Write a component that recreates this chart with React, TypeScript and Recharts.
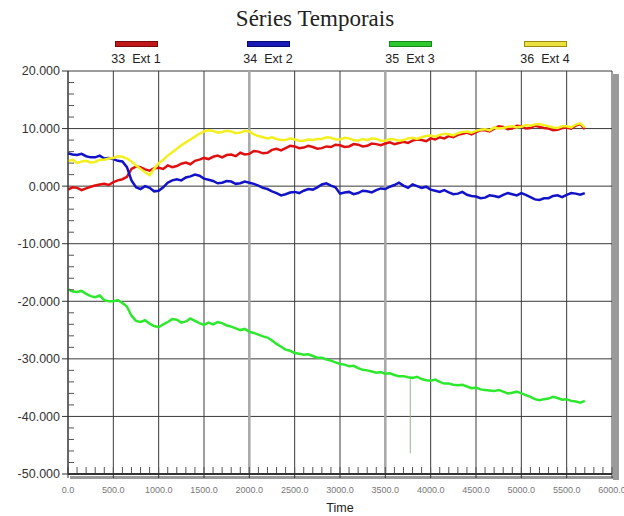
import React from 'react';
import { LineChart, Line, XAxis, YAxis, CartesianGrid, ReferenceLine } from 'recharts';

const times = [
  0, 50, 100, 150, 200, 250, 300, 350, 400, 450,
  500, 550, 600, 650, 700, 750, 800, 850, 900, 950,
  1000, 1050, 1100, 1150, 1200, 1250, 1300, 1350, 1400, 1450,
  1500, 1550, 1600, 1650, 1700, 1750, 1800, 1850, 1900, 1950,
  2000, 2050, 2100, 2150, 2200, 2250, 2300, 2350, 2400, 2450,
  2500, 2550, 2600, 2650, 2700, 2750, 2800, 2850, 2900, 2950,
  3000, 3050, 3100, 3150, 3200, 3250, 3300, 3350, 3400, 3450,
  3500, 3550, 3600, 3650, 3700, 3750, 3800, 3850, 3900, 3950,
  4000, 4050, 4100, 4150, 4200, 4250, 4300, 4350, 4400, 4450,
  4500, 4550, 4600, 4650, 4700, 4750, 4800, 4850, 4900, 4950,
  5000, 5050, 5100, 5150, 5200, 5250, 5300, 5350, 5400, 5450,
  5500, 5550, 5600, 5650, 5700,
];

const ext1 = [
  -0.6, -0.2, -0.3, -0.7, -0.4, -0.1, 0.1, 0.3, 0.4, 0.2,
  0.7, 1.0, 1.2, 1.6, 3.0, 3.4, 3.3, 2.9, 2.7, 3.1,
  3.2, 3.0, 3.6, 3.3, 3.5, 3.9, 4.1, 3.8, 4.4, 4.6,
  4.9, 4.7, 5.1, 5.3, 5.0, 5.4, 5.5, 5.2, 5.8, 5.5,
  5.6, 6.1, 6.0, 5.7, 5.8, 6.3, 6.5, 6.2, 6.6, 7.0,
  6.9, 6.6, 6.7, 7.0, 6.8, 6.5, 6.6, 6.9, 6.8, 7.2,
  7.1, 6.8, 6.9, 7.3, 7.2, 6.9, 7.0, 7.4, 7.3, 7.1,
  7.4, 7.6, 7.3, 7.5, 7.7, 7.5, 7.9, 8.1, 8.0, 7.8,
  8.3, 8.1, 8.5, 8.3, 8.7, 8.5, 8.9, 9.1, 9.3, 9.0,
  9.4, 9.7, 9.7, 9.5, 10.0, 10.4, 10.3, 9.9, 10.0, 10.5,
  10.4, 10.0, 10.1, 10.5, 10.3, 10.1, 10.0, 9.7, 9.8, 10.1,
  10.2, 10.0, 10.5, 10.8, 9.9,
];

const ext2 = [
  5.7, 5.5, 5.4, 5.6, 5.2, 5.0, 5.0, 5.3, 4.8, 4.9,
  4.7, 4.4, 4.3, 3.3, 1.0, -0.2, -0.5, 0.0, -0.3, -0.9,
  -0.8, -0.2, 0.6, 1.0, 1.2, 1.0, 1.5, 1.7, 2.0, 1.8,
  1.3, 1.1, 0.9, 0.5, 0.6, 0.9, 0.8, 0.4, 0.5, 0.8,
  0.6, 0.4, 0.1, -0.3, -0.5, -0.9, -1.2, -1.6, -1.4, -1.1,
  -1.0, -1.2, -0.8, -0.5, -0.6, -0.2, 0.3, 0.5, 0.1, -0.2,
  -1.3, -1.1, -1.0, -1.4, -1.2, -0.8, -0.9, -1.1, -0.7, -0.4,
  -0.5, -0.1, 0.2, 0.6, 0.1, -0.3, 0.3, 0.0, -0.3, -0.1,
  -0.6, -0.8, -1.0, -0.7, -1.1, -1.4, -1.3, -1.0, -1.5, -1.7,
  -1.8, -2.1, -2.0, -1.6, -1.7, -1.9, -1.5, -1.2, -1.4, -1.6,
  -1.2, -1.5, -1.9, -2.3, -2.4, -2.1, -2.1, -1.7, -1.6, -1.9,
  -1.5, -1.2, -1.3, -1.5, -1.2,
];

const ext3 = [
  -17.9, -18.3, -18.4, -18.2, -18.7, -19.1, -19.3, -19.0, -19.8, -20.0,
  -20.0, -19.8, -20.3, -20.9, -22.5, -23.4, -23.6, -23.3, -23.9, -24.3,
  -24.5, -24.0, -23.6, -23.1, -23.2, -23.7, -23.5, -23.0, -23.4, -23.8,
  -24.1, -23.7, -24.0, -23.6, -23.8, -24.2, -24.4, -24.7, -25.0, -24.8,
  -25.3, -25.5, -25.8, -26.1, -26.3, -26.8, -27.4, -27.9, -28.4, -28.6,
  -29.0, -29.1, -29.3, -29.2, -29.5, -29.8, -29.8, -30.1, -30.3, -30.6,
  -30.9, -31.0, -31.3, -31.2, -31.6, -31.9, -32.0, -32.2, -32.4, -32.3,
  -32.6, -32.5, -32.8, -33.0, -33.0, -33.2, -33.3, -33.1, -33.5, -33.7,
  -33.8, -33.6, -34.0, -34.3, -34.3, -34.5, -34.6, -34.5, -34.8, -35.1,
  -35.0, -35.3, -35.4, -35.5, -35.6, -35.4, -35.7, -36.0, -35.9, -35.7,
  -36.0, -36.3, -36.6, -37.0, -37.2, -37.0, -36.9, -36.6, -36.8, -37.1,
  -37.0, -37.3, -37.4, -37.6, -37.3,
];

const ext4 = [
  4.3, 4.6, 4.0, 4.3, 4.4, 4.1, 4.2, 4.6, 4.6, 4.8,
  4.9, 5.2, 5.1, 4.8, 4.3, 3.6, 3.0, 2.4, 1.9, 3.0,
  4.0, 4.6, 5.3, 5.9, 6.5, 7.1, 7.6, 8.1, 8.6, 9.1,
  9.5, 9.7, 9.6, 9.3, 9.4, 9.6, 9.5, 9.2, 9.3, 9.6,
  9.5, 9.0, 8.7, 8.5, 8.3, 8.5, 8.2, 8.0, 8.0, 8.3,
  8.1, 7.9, 7.9, 8.1, 8.0, 8.2, 8.2, 8.5, 8.4, 8.1,
  8.1, 8.4, 8.3, 8.0, 7.9, 8.2, 8.0, 8.3, 8.2, 7.9,
  7.9, 8.2, 8.1, 7.9, 8.0, 8.3, 8.4, 8.2, 8.5, 8.7,
  8.8, 8.6, 8.9, 9.1, 9.0, 8.8, 9.2, 9.4, 9.5, 9.3,
  9.6, 9.8, 9.9, 9.7, 10.2, 10.0, 10.1, 10.3, 10.4, 10.2,
  10.3, 10.6, 10.5, 10.7, 10.8, 10.6, 10.4, 10.2, 10.1, 10.4,
  10.4, 10.2, 10.7, 10.9, 10.2,
];

const spikeTimes = [3775, 3775];
const spikeValues = [-33.2, -46.4];

const xTicks = [0, 500, 1000, 1500, 2000, 2500, 3000, 3500, 4000, 4500, 5000, 5500, 6000];
const yTicks = [-50, -40, -30, -20, -10, 0, 10, 20];
const highlightTimes = [2000, 3500];

const seriesKeys = ['e1', 'e2', 'e3', 'e4'];
const seriesNames = ['33  Ext 1', '34  Ext 2', '35  Ext 3', '36  Ext 4'];
const seriesColors = ['#e01010', '#1212c8', '#2ee82e', '#f4f020'];
const swatchColors = ['#c01818', '#1a1ab8', '#2ec82e', '#ece040'];
const swatchBorders = ['#7a0a0a', '#0a0a70', '#168a16', '#9a8a10'];
const legendCenters = [136, 268, 410, 545];

const xMinorTicks: number[] = [];
for (let v = 0; v <= 6000; v += 100) xMinorTicks.push(v);
const yMinorTicks: number[] = [];
for (let v = -50; v <= 20; v += 2) yMinorTicks.push(v);

const rows = times.map((t, i) => ({ t, e1: ext1[i], e2: ext2[i], e3: ext3[i], e4: ext4[i] }));
const spikeRows = spikeTimes.map((t, i) => ({ t, v: spikeValues[i] }));

const fmtX = (v: number) => v.toFixed(1);
const NoLabel = () => <g />;

const TICK_SIZE = 6;
const TICK_MARGIN = 2;
const YTick = (props: any) => {
  const { x, y, payload } = props;
  const v = payload.value as number;
  const axisX = x + TICK_SIZE + TICK_MARGIN;
  if (yTicks.includes(v)) {
    return (
      <g>
        <line x1={axisX - TICK_SIZE} x2={axisX} y1={y} y2={y} stroke="#333" />
        <text x={x} y={y} dy="0.35em" textAnchor="end" fontSize={12.5} fill="#333" fontFamily='"Liberation Sans", Arial, sans-serif'>
          {v.toFixed(3)}
        </text>
      </g>
    );
  }
  return <line x1={axisX} x2={axisX + 6} y1={y} y2={y} stroke="#555" />;
};

export default function App() {
  return (
    <div style={{ position: 'absolute', left: 0, top: 0, width: 624, height: 516, background: '#fff', overflow: 'hidden' }}>
      <div style={{ position: 'absolute', left: 0, width: 630, top: 6, textAlign: 'center', fontFamily: '"Liberation Serif", serif', fontSize: 23, color: '#222' }}>
        Séries Temporais
      </div>
      {seriesNames.map((name, i) => (
        <div key={name} style={{ position: 'absolute', left: legendCenters[i] - 40, width: 80, top: 41, textAlign: 'center' }}>
          <div style={{ margin: '0 auto', width: 41, height: 4, background: swatchColors[i], border: `1px solid ${swatchBorders[i]}` }} />
          <div style={{ marginTop: 5, fontFamily: '"Liberation Sans", Arial, sans-serif', fontSize: 12.5, color: '#222', whiteSpace: 'pre' }}>{name}</div>
        </div>
      ))}
      <div style={{ position: 'absolute', left: 613, top: 74, width: 6, height: 406, background: '#9a9a9a' }} />
      <div style={{ position: 'absolute', left: 70, top: 476, width: 549, height: 3, background: '#9a9a9a' }} />
      <LineChart width={624} height={516} data={rows} margin={{ top: 71, right: 12, bottom: 0, left: 0 }} style={{ position: 'absolute', left: 0, top: 0 }}>
        <XAxis xAxisId="minor" dataKey="t" type="number" domain={[0, 6000]} ticks={xMinorTicks} interval={0} orientation="bottom" mirror tick={NoLabel} axisLine={false} tickSize={7} tickLine={{ stroke: '#555' }} height={1} />
        <CartesianGrid stroke="#3a3a3a" strokeWidth={1} fill="#fff" horizontal={false} />
        {yTicks.map((v) => (
          <ReferenceLine key={`h${v}`} y={v} stroke="#3a3a3a" strokeWidth={1} />
        ))}
        <XAxis dataKey="t" type="number" domain={[0, 6000]} ticks={xTicks} interval={0} tickFormatter={fmtX} height={42} tickSize={4} tickMargin={9}
          axisLine={{ stroke: '#333', strokeWidth: 2 }} tickLine={{ stroke: '#333' }}
          tick={{ fontSize: 9, fill: '#777', fontFamily: '"Liberation Sans", Arial, sans-serif' }}
          label={{ value: 'Time', position: 'insideBottom', offset: 4, fontSize: 12.5, fill: '#222', fontFamily: '"Liberation Sans", Arial, sans-serif' }} />
        <YAxis type="number" domain={[-50, 20]} ticks={yMinorTicks} interval={0} width={68} tickSize={TICK_SIZE} tickMargin={TICK_MARGIN}
          axisLine={{ stroke: '#333' }} tickLine={false} tick={<YTick />} />
        {highlightTimes.map((t) => (
          <ReferenceLine key={t} x={t} stroke="#a8a8a8" strokeWidth={2.5} />
        ))}
        <Line data={spikeRows} dataKey="v" stroke="#8fb88f" strokeWidth={1} dot={false} isAnimationActive={false} />
        {seriesKeys.map((k, i) => (
          <Line key={k} dataKey={k} stroke={seriesColors[i]} strokeWidth={2.5} dot={false} isAnimationActive={false} />
        ))}
      </LineChart>
    </div>
  );
}
